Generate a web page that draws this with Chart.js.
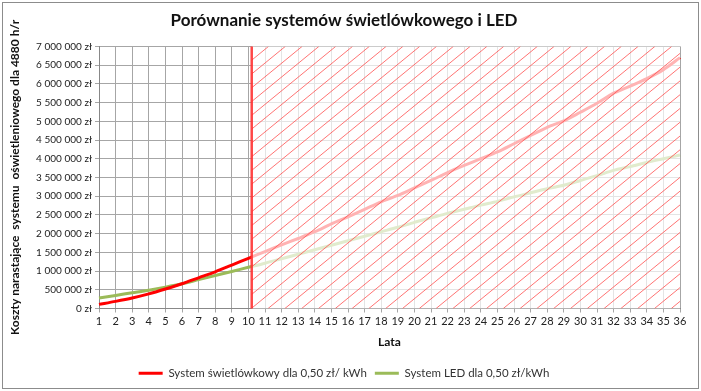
<!DOCTYPE html>
<html>
<head>
<meta charset="utf-8">
<script src="https://cdn.jsdelivr.net/npm/chart.js@4/dist/chart.umd.min.js"></script>
<style>
  html, body { margin: 0; padding: 0; background: #fff; }
  #wrap { position: relative; width: 701px; height: 391px; }
  #frame { position: absolute; left: 2px; top: 2px; width: 695px; height: 385px; border: 1px solid #8c8c8c; pointer-events: none; }
</style>
</head>
<body>
<div id="wrap">
  <canvas id="c" width="701" height="391"></canvas>
  <div id="frame"></div>
</div>
<script>
// ---- data ----
const years = ['1','2','3','4','5','6','7','8','9','10','11','12','13','14','15','16','17','18',
  '19','20','21','22','23','24','25','26','27','28','29','30','31','32','33','34','35','36'];
const costFluorescent = [110000,190000,280000,390000,520000,660000,820000,980000,1160000,1340000,
  1520000,1700000,1870000,2050000,2260000,2450000,2650000,2850000,3020000,3220000,3420000,3630000,
  3820000,4000000,4180000,4400000,4620000,4840000,5010000,5240000,5480000,5750000,5940000,6140000,
  6380000,6700000];
const costLED = [280000,350000,420000,490000,570000,660000,770000,880000,990000,1100000,
  1210000,1330000,1450000,1570000,1690000,1810000,1930000,2050000,2170000,2300000,2420000,2540000,
  2650000,2760000,2860000,2980000,3090000,3200000,3290000,3420000,3550000,3690000,3790000,3900000,
  4000000,4100000];
const seriesNames = ['System świetlówkowy dla 0,50 zł/ kWh', 'System LED dla 0,50 zł/kWh'];
const cutoffYearIndex = 9.2;   // vertical marker just after year 10
const yMax = 7000000;
const yStep = 500000;

function fmtZl(v) {
  return String(v).replace(/\B(?=(\d{3})+(?!\d))/g, ' ') + ' zł';
}

const overlayPlugin = {
  id: 'forecastOverlay',
  afterDatasetsDraw(chart) {
    const {ctx, chartArea, scales} = chart;
    const x0 = scales.x.getPixelForValue(cutoffYearIndex);
    const top = chartArea.top, bottom = chartArea.bottom, right = chartArea.right;
    ctx.save();
    ctx.fillStyle = 'rgba(255,255,255,0.70)';
    ctx.fillRect(x0, top, right - x0, bottom - top);
    ctx.beginPath();
    ctx.rect(x0, top, right - x0, bottom - top);
    ctx.clip();
    ctx.strokeStyle = 'rgba(255,80,80,0.8)';
    ctx.lineWidth = 1;
    const slope = 0.82, spacing = 16.8;
    const h = bottom - top;
    for (let sx = x0 - h / slope - spacing; sx < right + spacing; sx += spacing) {
      ctx.beginPath();
      ctx.moveTo(sx, bottom);
      ctx.lineTo(sx + h / slope, top);
      ctx.stroke();
    }
    ctx.restore();
    ctx.save();
    ctx.strokeStyle = 'rgba(255,50,50,0.9)';
    ctx.lineWidth = 2.5;
    ctx.beginPath();
    ctx.moveTo(x0, top);
    ctx.lineTo(x0, bottom);
    ctx.stroke();
    ctx.restore();
  }
};

Chart.defaults.font.family = 'Lato, "Open Sans", sans-serif';
Chart.defaults.color = '#222';

new Chart(document.getElementById('c'), {
  type: 'line',
  data: {
    labels: years,
    datasets: [
      { label: seriesNames[0], data: costFluorescent, borderColor: '#ff0000', backgroundColor: '#ff0000',
        borderWidth: 3, pointRadius: 0, tension: 0.3, fill: false },
      { label: seriesNames[1], data: costLED, borderColor: '#9bbb59', backgroundColor: '#9bbb59',
        borderWidth: 3, pointRadius: 0, tension: 0.3, fill: false }
    ]
  },
  options: {
    responsive: false,
    animation: false,
    layout: { padding: { left: 8, right: 21, top: 4, bottom: 2 } },
    plugins: {
      title: { display: true, text: 'Porównanie systemów świetlówkowego i LED',
        font: { size: 17, weight: 'bold' }, color: '#111', padding: { top: 6, bottom: 16 } },
      legend: { position: 'bottom',
        labels: { usePointStyle: true, pointStyle: 'line', pointStyleWidth: 24, boxHeight: 3,
          font: { size: 11.5 }, color: '#333', padding: 8 } },
      tooltip: { enabled: false }
    },
    scales: {
      x: {
        offset: false,
        grid: { color: '#a6a6a6', tickLength: 4 },
        border: { color: '#888' },
        ticks: { font: { size: 11 }, color: '#222', padding: 2, maxRotation: 0, autoSkip: false },
        title: { display: true, text: 'Lata', font: { size: 12, weight: 'bold' }, color: '#111',
          padding: { top: 4, bottom: 10 } },
        afterFit(s) { s.height = 51; }
      },
      y: {
        min: 0, max: yMax,
        grid: { color: '#a6a6a6', tickLength: 4 },
        border: { color: '#888' },
        ticks: { stepSize: yStep, font: { size: 10 }, color: '#222', padding: 3,
          callback: (v) => fmtZl(v) },
        title: { display: true, text: 'Koszty narastające  systemu  oświetleniowego dla 4880 h/r',
          font: { size: 12, weight: 'bold' }, color: '#111', padding: { top: 0, bottom: 6 } },
        afterFit(s) { s.width = 91; }
      }
    }
  },
  plugins: [overlayPlugin]
});
</script>
</body>
</html>
